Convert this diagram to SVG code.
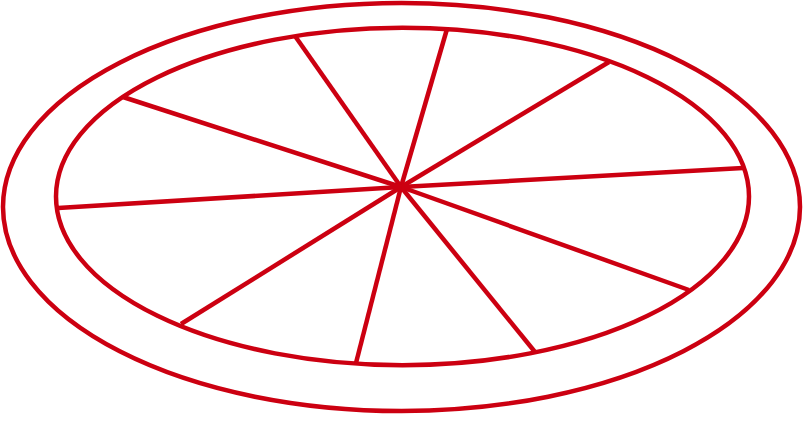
<svg xmlns="http://www.w3.org/2000/svg" width="803" height="423" viewBox="0 0 803 423">
<style>
.r{fill:none;stroke:#cc0011;stroke-width:4.5}
.s{stroke:#cc0011;stroke-width:4.5;stroke-linecap:butt}
</style>
<rect width="803" height="423" fill="#fff"/>
<g id="rim">
<ellipse class="r" cx="401.5" cy="207" rx="398.5" ry="204"/>
<ellipse class="r" cx="402.5" cy="196.5" rx="346.5" ry="168.7"/>
</g>
<g id="spokes">
<line class="s" x1="401" y1="187" x2="295" y2="36"/>
<line class="s" x1="401" y1="187" x2="447" y2="29"/>
<line class="s" x1="401" y1="187" x2="609" y2="62"/>
<line class="s" x1="401" y1="187" x2="743" y2="168"/>
<line class="s" x1="401" y1="187" x2="689" y2="290"/>
<line class="s" x1="401" y1="187" x2="535" y2="352"/>
<line class="s" x1="401" y1="187" x2="356" y2="363"/>
<line class="s" x1="401" y1="187" x2="181" y2="324"/>
<line class="s" x1="401" y1="187" x2="58" y2="208"/>
<line class="s" x1="401" y1="187" x2="123" y2="97"/>
</g>
</svg>
